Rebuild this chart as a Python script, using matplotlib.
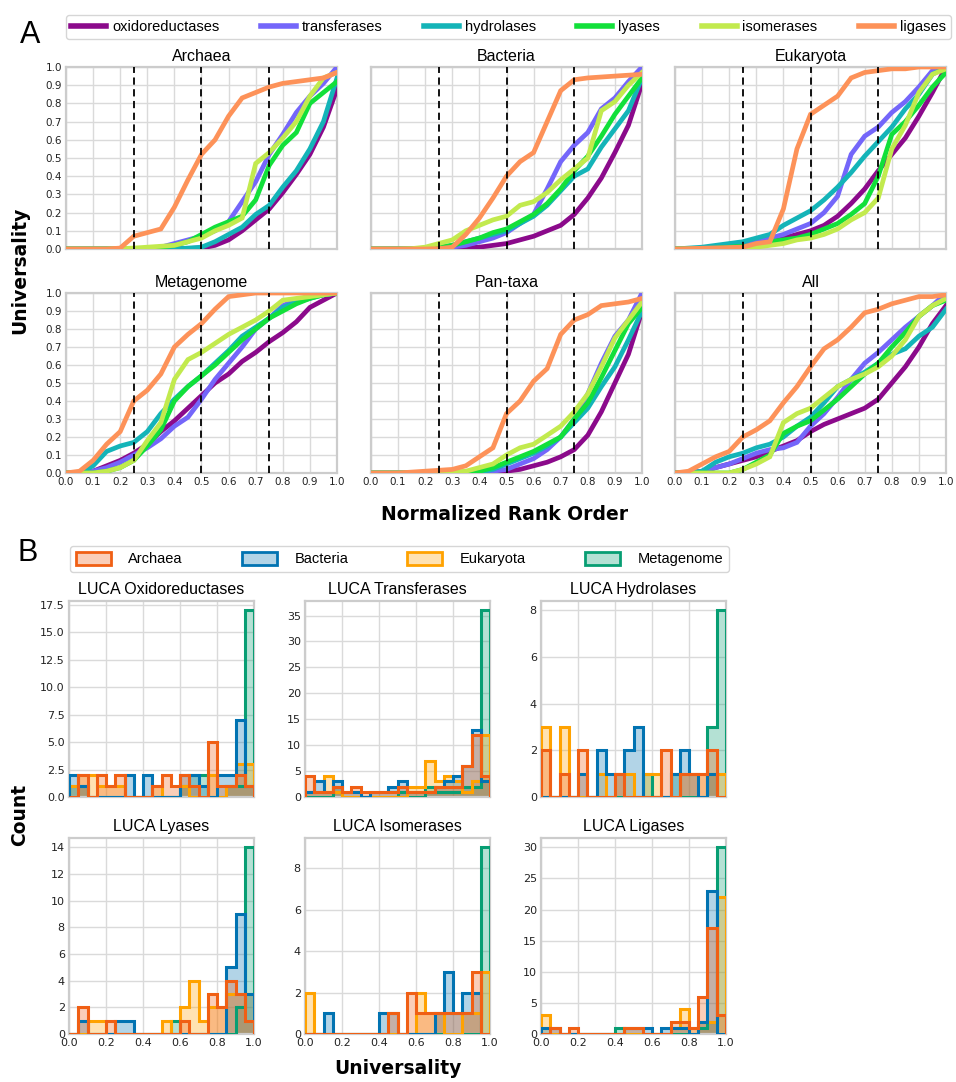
import matplotlib
matplotlib.use("Agg")
import matplotlib.pyplot as plt
from matplotlib.lines import Line2D
from matplotlib.patches import Patch
import numpy as np

# ---------------- Panel A data (universality vs normalized rank order) -------------
rank_x = [0.0, 0.05, 0.1, 0.15, 0.2, 0.25, 0.3, 0.35, 0.4, 0.45, 0.5,
          0.55, 0.6, 0.65, 0.7, 0.75, 0.8, 0.85, 0.9, 0.95, 1.0]

enzyme_classes = ["oxidoreductases", "transferases", "hydrolases", "lyases", "isomerases", "ligases"]
panel_titles = ["Archaea", "Bacteria", "Eukaryota", "Metagenome", "Pan-taxa", "All"]

archaea_oxido = [0, 0, 0, 0, 0, 0, 0, 0, 0, 0.003, 0.005, 0.02, 0.05, 0.10, 0.16, 0.22, 0.31, 0.41, 0.52, 0.67, 0.88]
archaea_trans = [0, 0, 0, 0, 0, 0, 0.005, 0.01, 0.03, 0.05, 0.07, 0.10, 0.15, 0.26, 0.37, 0.52, 0.63, 0.75, 0.84, 0.91, 1.0]
archaea_hydro = [0, 0, 0, 0, 0, 0, 0, 0, 0, 0.005, 0.01, 0.04, 0.08, 0.12, 0.19, 0.24, 0.34, 0.43, 0.55, 0.70, 0.94]
archaea_lyase = [0, 0, 0, 0, 0, 0, 0.005, 0.01, 0.02, 0.04, 0.08, 0.12, 0.15, 0.18, 0.27, 0.46, 0.57, 0.64, 0.80, 0.86, 0.92]
archaea_isom = [0, 0, 0, 0, 0.002, 0.005, 0.01, 0.015, 0.02, 0.04, 0.06, 0.10, 0.13, 0.17, 0.47, 0.53, 0.61, 0.70, 0.84, 0.94, 0.97]
archaea_ligase = [0, 0, 0, 0, 0.005, 0.07, 0.09, 0.11, 0.23, 0.38, 0.52, 0.60, 0.73, 0.83, 0.86, 0.89, 0.91, 0.92, 0.93, 0.94, 0.97]

bacteria_oxido = [0, 0, 0, 0, 0, 0, 0.003, 0.006, 0.01, 0.02, 0.03, 0.05, 0.07, 0.10, 0.13, 0.19, 0.28, 0.39, 0.53, 0.68, 0.91]
bacteria_trans = [0, 0, 0, 0, 0, 0.003, 0.01, 0.02, 0.04, 0.06, 0.09, 0.14, 0.19, 0.33, 0.48, 0.57, 0.64, 0.77, 0.83, 0.92, 1.0]
bacteria_hydro = [0, 0, 0, 0, 0.003, 0.008, 0.02, 0.04, 0.06, 0.08, 0.10, 0.14, 0.18, 0.24, 0.32, 0.40, 0.44, 0.56, 0.66, 0.76, 0.94]
bacteria_lyase = [0, 0, 0, 0, 0.005, 0.01, 0.02, 0.04, 0.06, 0.09, 0.11, 0.15, 0.19, 0.25, 0.33, 0.43, 0.51, 0.62, 0.74, 0.84, 0.94]
bacteria_isom = [0, 0, 0, 0.002, 0.01, 0.03, 0.05, 0.10, 0.13, 0.16, 0.18, 0.24, 0.26, 0.31, 0.38, 0.44, 0.50, 0.76, 0.81, 0.90, 0.97]
bacteria_ligase = [0, 0, 0, 0, 0, 0.002, 0.01, 0.08, 0.17, 0.28, 0.40, 0.48, 0.53, 0.70, 0.87, 0.93, 0.94, 0.945, 0.95, 0.955, 0.96]

eukaryota_oxido = [0, 0, 0.003, 0.006, 0.01, 0.015, 0.03, 0.04, 0.06, 0.08, 0.10, 0.13, 0.18, 0.25, 0.33, 0.43, 0.52, 0.61, 0.73, 0.86, 1.0]
eukaryota_trans = [0, 0, 0.003, 0.006, 0.01, 0.02, 0.04, 0.06, 0.08, 0.11, 0.14, 0.20, 0.29, 0.52, 0.62, 0.67, 0.75, 0.81, 0.89, 0.98, 1.0]
eukaryota_hydro = [0, 0.005, 0.01, 0.02, 0.03, 0.04, 0.06, 0.08, 0.13, 0.17, 0.21, 0.27, 0.34, 0.42, 0.51, 0.59, 0.67, 0.77, 0.85, 0.96, 1.0]
eukaryota_lyase = [0, 0, 0.002, 0.005, 0.01, 0.015, 0.02, 0.04, 0.05, 0.06, 0.08, 0.11, 0.14, 0.19, 0.25, 0.40, 0.63, 0.70, 0.79, 0.89, 0.97]
eukaryota_isom = [0, 0, 0, 0.002, 0.005, 0.008, 0.01, 0.02, 0.03, 0.05, 0.06, 0.08, 0.11, 0.16, 0.20, 0.28, 0.55, 0.68, 0.86, 0.96, 0.99]
eukaryota_ligase = [0, 0.002, 0.004, 0.006, 0.008, 0.01, 0.03, 0.04, 0.22, 0.55, 0.74, 0.79, 0.84, 0.94, 0.97, 0.98, 0.99, 0.99, 1.0, 1.0, 1.0]

metagenome_oxido = [0, 0, 0.01, 0.04, 0.07, 0.11, 0.16, 0.23, 0.29, 0.36, 0.43, 0.50, 0.55, 0.62, 0.67, 0.73, 0.78, 0.84, 0.92, 0.96, 1.0]
metagenome_trans = [0, 0, 0.01, 0.03, 0.06, 0.10, 0.14, 0.19, 0.26, 0.31, 0.41, 0.52, 0.61, 0.70, 0.80, 0.86, 0.93, 0.96, 0.98, 0.99, 1.0]
metagenome_hydro = [0, 0, 0.04, 0.12, 0.15, 0.17, 0.23, 0.33, 0.41, 0.48, 0.54, 0.61, 0.68, 0.76, 0.81, 0.86, 0.92, 0.95, 0.97, 0.99, 1.0]
metagenome_lyase = [0, 0, 0, 0.01, 0.03, 0.07, 0.15, 0.24, 0.40, 0.48, 0.54, 0.60, 0.67, 0.74, 0.80, 0.86, 0.90, 0.94, 0.97, 0.99, 1.0]
metagenome_isom = [0, 0, 0, 0.01, 0.03, 0.07, 0.18, 0.28, 0.52, 0.63, 0.67, 0.72, 0.77, 0.81, 0.85, 0.90, 0.96, 0.97, 0.98, 0.99, 1.0]
metagenome_ligase = [0, 0.01, 0.07, 0.16, 0.23, 0.40, 0.46, 0.55, 0.70, 0.77, 0.83, 0.91, 0.98, 0.99, 1.0, 1.0, 1.0, 1.0, 1.0, 1.0, 1.0]

pantaxa_oxido = [0, 0, 0, 0, 0, 0, 0, 0, 0, 0, 0.01, 0.02, 0.04, 0.06, 0.09, 0.13, 0.21, 0.34, 0.50, 0.66, 0.90]
pantaxa_trans = [0, 0, 0, 0, 0, 0, 0, 0, 0, 0.01, 0.02, 0.05, 0.08, 0.13, 0.20, 0.30, 0.44, 0.61, 0.76, 0.85, 1.0]
pantaxa_hydro = [0, 0, 0, 0, 0, 0, 0, 0, 0.005, 0.02, 0.05, 0.08, 0.11, 0.15, 0.20, 0.28, 0.36, 0.48, 0.59, 0.74, 0.90]
pantaxa_lyase = [0, 0, 0, 0, 0, 0, 0, 0.005, 0.01, 0.03, 0.06, 0.09, 0.12, 0.16, 0.20, 0.30, 0.39, 0.53, 0.68, 0.83, 0.92]
pantaxa_isom = [0, 0, 0, 0, 0, 0, 0.005, 0.01, 0.03, 0.05, 0.10, 0.14, 0.16, 0.21, 0.26, 0.34, 0.44, 0.59, 0.75, 0.85, 0.95]
pantaxa_ligase = [0, 0, 0, 0.005, 0.01, 0.015, 0.02, 0.04, 0.09, 0.14, 0.33, 0.40, 0.51, 0.58, 0.77, 0.85, 0.88, 0.93, 0.94, 0.95, 0.97]

all_oxido = [0, 0, 0.01, 0.03, 0.05, 0.07, 0.09, 0.12, 0.15, 0.18, 0.23, 0.27, 0.30, 0.33, 0.36, 0.41, 0.50, 0.59, 0.70, 0.83, 0.93]
all_trans = [0, 0, 0.01, 0.03, 0.05, 0.08, 0.11, 0.13, 0.14, 0.17, 0.26, 0.33, 0.42, 0.52, 0.61, 0.67, 0.74, 0.81, 0.87, 0.93, 1.0]
all_hydro = [0, 0, 0.01, 0.06, 0.09, 0.11, 0.14, 0.16, 0.20, 0.26, 0.31, 0.39, 0.48, 0.52, 0.56, 0.61, 0.66, 0.69, 0.76, 0.81, 0.91]
all_lyase = [0, 0, 0, 0, 0, 0.02, 0.06, 0.10, 0.22, 0.26, 0.29, 0.35, 0.41, 0.48, 0.55, 0.61, 0.70, 0.78, 0.87, 0.93, 0.96]
all_isom = [0, 0, 0, 0, 0, 0.02, 0.05, 0.09, 0.28, 0.33, 0.36, 0.42, 0.48, 0.52, 0.55, 0.59, 0.65, 0.74, 0.87, 0.93, 0.97]
all_ligase = [0, 0.01, 0.05, 0.09, 0.12, 0.20, 0.24, 0.29, 0.39, 0.48, 0.59, 0.69, 0.74, 0.81, 0.89, 0.91, 0.94, 0.96, 0.98, 0.98, 0.99]

panel_curves = [
    [archaea_oxido, archaea_trans, archaea_hydro, archaea_lyase, archaea_isom, archaea_ligase],
    [bacteria_oxido, bacteria_trans, bacteria_hydro, bacteria_lyase, bacteria_isom, bacteria_ligase],
    [eukaryota_oxido, eukaryota_trans, eukaryota_hydro, eukaryota_lyase, eukaryota_isom, eukaryota_ligase],
    [metagenome_oxido, metagenome_trans, metagenome_hydro, metagenome_lyase, metagenome_isom, metagenome_ligase],
    [pantaxa_oxido, pantaxa_trans, pantaxa_hydro, pantaxa_lyase, pantaxa_isom, pantaxa_ligase],
    [all_oxido, all_trans, all_hydro, all_lyase, all_isom, all_ligase],
]
quartile_lines = [0.25, 0.5, 0.75]

# ---------------- Panel B data (histogram counts, 20 bins over 0..1) -------------
hist_titles = ["LUCA Oxidoreductases", "LUCA Transferases", "LUCA Hydrolases",
               "LUCA Lyases", "LUCA Isomerases", "LUCA Ligases"]
groups = ["Archaea", "Bacteria", "Eukaryota", "Metagenome"]

oxido_archaea = [0, 2, 0, 2, 1, 2, 0, 0, 0, 1, 2, 1, 2, 1, 0, 5, 1, 1, 2, 1]
oxido_bacteria = [2, 1, 0, 0, 0, 0, 2, 0, 2, 0, 0, 0, 2, 2, 1, 0, 2, 2, 7, 1]
oxido_eukaryota = [1, 2, 2, 1, 1, 1, 0, 0, 0, 1, 0, 0, 1, 0, 0, 2, 0, 1, 3, 3]
oxido_metagenome = [1, 1, 0, 0, 0, 0, 0, 0, 0, 0, 0, 0, 1, 2, 2, 0, 0, 1, 1, 17]

trans_archaea = [4, 1, 1, 2, 1, 2, 1, 1, 1, 1, 2, 1, 1, 1, 2, 2, 2, 6, 12, 4]
trans_bacteria = [1, 3, 1, 3, 1, 1, 0, 1, 1, 2, 3, 1, 1, 1, 2, 3, 4, 6, 13, 3]
trans_eukaryota = [1, 1, 4, 1, 0, 0, 0, 0, 0, 0, 0, 2, 2, 7, 3, 4, 3, 1, 3, 12]
trans_metagenome = [0, 0, 0, 2, 0, 0, 0, 0, 0, 0, 1, 0, 0, 2, 1, 1, 1, 2, 2, 36]

hydro_archaea = [2, 0, 1, 0, 2, 0, 0, 0, 1, 0, 0, 0, 0, 2, 0, 1, 1, 1, 2, 0]
hydro_bacteria = [0, 0, 0, 0, 1, 0, 2, 1, 1, 2, 3, 0, 0, 0, 1, 2, 1, 0, 1, 0]
hydro_eukaryota = [3, 0, 3, 0, 0, 0, 1, 0, 1, 1, 0, 1, 1, 0, 0, 1, 1, 1, 1, 1]
hydro_metagenome = [0, 0, 0, 0, 0, 0, 0, 0, 0, 0, 0, 1, 0, 0, 1, 0, 0, 0, 3, 8]

lyase_archaea = [0, 2, 0, 0, 1, 0, 0, 0, 0, 0, 0, 0, 1, 0, 0, 3, 2, 4, 3, 1]
lyase_bacteria = [0, 1, 0, 0, 0, 1, 1, 0, 0, 0, 0, 0, 0, 0, 0, 0, 0, 5, 9, 3]
lyase_eukaryota = [0, 0, 1, 1, 0, 0, 0, 0, 0, 0, 1, 0, 2, 4, 1, 2, 2, 3, 3, 3]
lyase_metagenome = [0, 0, 0, 0, 0, 0, 0, 0, 0, 0, 0, 1, 0, 0, 0, 0, 0, 0, 2, 14]

isom_archaea = [0, 0, 0, 0, 0, 0, 0, 0, 0, 1, 0, 2, 1, 1, 1, 1, 1, 1, 3, 0]
isom_bacteria = [0, 0, 1, 0, 0, 0, 0, 0, 1, 1, 0, 0, 0, 0, 1, 3, 1, 2, 2, 0]
isom_eukaryota = [2, 0, 0, 0, 0, 0, 0, 0, 0, 0, 0, 0, 2, 1, 1, 0, 0, 1, 1, 3]
isom_metagenome = [0, 0, 0, 0, 0, 0, 0, 0, 0, 0, 0, 0, 0, 0, 0, 0, 0, 0, 0, 9]

ligase_archaea = [0, 1, 0, 1, 0, 0, 0, 0, 0, 1, 1, 0, 0, 0, 2, 2, 1, 6, 17, 3]
ligase_bacteria = [1, 1, 0, 0, 0, 0, 0, 0, 0, 1, 1, 1, 0, 1, 1, 1, 0, 2, 23, 0]
ligase_eukaryota = [3, 0, 0, 0, 0, 0, 0, 0, 0, 0, 0, 0, 0, 0, 1, 4, 1, 2, 2, 22]
ligase_metagenome = [0, 0, 0, 0, 0, 0, 0, 0, 1, 0, 0, 0, 0, 0, 0, 0, 0, 1, 2, 30]

hist_counts = [
    [oxido_archaea, oxido_bacteria, oxido_eukaryota, oxido_metagenome],
    [trans_archaea, trans_bacteria, trans_eukaryota, trans_metagenome],
    [hydro_archaea, hydro_bacteria, hydro_eukaryota, hydro_metagenome],
    [lyase_archaea, lyase_bacteria, lyase_eukaryota, lyase_metagenome],
    [isom_archaea, isom_bacteria, isom_eukaryota, isom_metagenome],
    [ligase_archaea, ligase_bacteria, ligase_eukaryota, ligase_metagenome],
]
hist_yticks = [
    [0, 2.5, 5, 7.5, 10, 12.5, 15, 17.5],
    [0, 5, 10, 15, 20, 25, 30, 35],
    [0, 2, 4, 6, 8],
    [0, 2, 4, 6, 8, 10, 12, 14],
    [0, 2, 4, 6, 8],
    [0, 5, 10, 15, 20, 25, 30],
]
hist_ytick_fmt = ["{:.1f}", "{:.0f}", "{:.0f}", "{:.0f}", "{:.0f}", "{:.0f}"]

# ---------------- styling ----------------
line_colors = ["#8b0a8b", "#7466fa", "#14b4b8", "#12e03a", "#c2ea4e", "#fd9259"]
group_colors = ["#f05f14", "#0173b2", "#ffa200", "#079e73"]
TITLE_FONT = ["Liberation Sans", "DejaVu Sans"]
GRID_C = "#dadada"
SPINE_C = "#cccccc"

W, H = 956, 1082
fig = plt.figure(figsize=(W / 100, H / 100), dpi=100)


def add_ax(l, t, r, b):
    return fig.add_axes([l / W, 1 - b / H, (r - l) / W, (b - t) / H])


def style_ax(ax):
    ax.set_facecolor("white")
    for s in ax.spines.values():
        s.set_color(SPINE_C)
        s.set_linewidth(1.6)
    ax.grid(True, color=GRID_C, linewidth=1.0)
    ax.set_axisbelow(True)
    ax.tick_params(length=0, pad=3, colors="#222222")


# ---------- Panel A ----------
a_lefts = [66, 371, 675]
a_width = 271
a_rows = [(67, 249), (293, 473)]
for i, title in enumerate(panel_titles):
    r, c = divmod(i, 3)
    t, b = a_rows[r]
    ax = add_ax(a_lefts[c], t, a_lefts[c] + a_width, b)
    style_ax(ax)
    for k in range(len(enzyme_classes)):
        ax.plot(rank_x, panel_curves[i][k], color=line_colors[k], lw=3.4,
                solid_joinstyle="miter", zorder=3)
    for q in quartile_lines:
        ax.axvline(q, color="black", lw=1.3, ls=(0, (4, 2.5)), zorder=4)
    ax.set_xlim(0, 1)
    ax.set_ylim(0, 1)
    ticks = [round(v * 0.1, 1) for v in range(11)]
    ax.set_xticks(ticks)
    ax.set_yticks(ticks)
    if r == 1:
        ax.set_xticklabels([f"{v:.1f}" for v in ticks], fontsize=7.5)
    else:
        ax.set_xticklabels([])
    if c == 0:
        ax.set_yticklabels([f"{v:.1f}" for v in ticks], fontsize=7.5)
    else:
        ax.set_yticklabels([])
    ax.set_title(title, fontsize=11.5, family=TITLE_FONT, pad=4)

handles_a = [Line2D([0], [0], color=line_colors[k], lw=4) for k in range(len(enzyme_classes))]
fig.legend(handles_a, enzyme_classes, loc="lower left",
           bbox_to_anchor=(66 / W, 1 - 39 / H, (951 - 66) / W, 28 / H),
           mode="expand", ncol=6, frameon=True,
           prop={"family": TITLE_FONT, "size": 10.5},
           handlelength=2.4, handletextpad=0.4, borderaxespad=0, borderpad=0.35,
           edgecolor="#cccccc", fancybox=True)

fig.text(30 / W, 1 - 35 / H, "A", fontsize=22, family=TITLE_FONT, ha="center", va="center")
fig.text(20 / W, 1 - 270 / H, "Universality", fontsize=13.5, fontweight="bold",
         rotation=90, ha="center", va="center")
fig.text(505 / W, 1 - 514 / H, "Normalized Rank Order", fontsize=13.5, fontweight="bold",
         ha="center", va="center")

# ---------- Panel B ----------
edges = np.linspace(0, 1, 21)
b_lefts = [69, 305, 541]
b_width = 185
b_rows = [(601, 797), (838, 1034)]
draw_order = [3, 2, 1, 0]
for i, title in enumerate(hist_titles):
    r, c = divmod(i, 3)
    t, b = b_rows[r]
    ax = add_ax(b_lefts[c], t, b_lefts[c] + b_width, b)
    style_ax(ax)
    for g in draw_order:
        cnt = hist_counts[i][g]
        ax.stairs(cnt, edges, fill=True, color=group_colors[g], alpha=0.3, lw=0, zorder=2)
    for g in draw_order:
        cnt = hist_counts[i][g]
        ax.stairs(cnt, edges, fill=False, color=group_colors[g], lw=2.2, baseline=0, zorder=3)
    ymax = max(max(cc) for cc in hist_counts[i])
    ax.set_xlim(0, 1)
    ax.set_ylim(0, ymax * 1.05)
    ax.set_xticks([0, 0.2, 0.4, 0.6, 0.8, 1.0])
    if r == 1:
        ax.set_xticklabels(["0.0", "0.2", "0.4", "0.6", "0.8", "1.0"], fontsize=8)
    else:
        ax.set_xticklabels([])
    ax.set_yticks(hist_yticks[i])
    ax.set_yticklabels([hist_ytick_fmt[i].format(v) for v in hist_yticks[i]], fontsize=8)
    ax.set_title(title, fontsize=11.5, family=TITLE_FONT, pad=5)

handles_b = [Patch(facecolor=matplotlib.colors.to_rgba(group_colors[g], 0.3),
                   edgecolor=group_colors[g], lw=2) for g in range(4)]
fig.legend(handles_b, groups, loc="lower left",
           bbox_to_anchor=(70 / W, 1 - 572 / H, (729 - 70) / W, 29 / H),
           mode="expand", ncol=4, frameon=True,
           prop={"family": TITLE_FONT, "size": 10.5},
           handlelength=2.4, handleheight=1.0, handletextpad=1.2,
           borderaxespad=0, borderpad=0.4, edgecolor="#cccccc", fancybox=True)

fig.text(28 / W, 1 - 553 / H, "B", fontsize=22, family=TITLE_FONT, ha="center", va="center")
fig.text(20 / W, 1 - 815 / H, "Count", fontsize=13.5, fontweight="bold",
         rotation=90, ha="center", va="center")
fig.text(398 / W, 1 - 1069 / H, "Universality", fontsize=13.5, fontweight="bold",
         ha="center", va="center")

fig.savefig("out.png", dpi=100)
